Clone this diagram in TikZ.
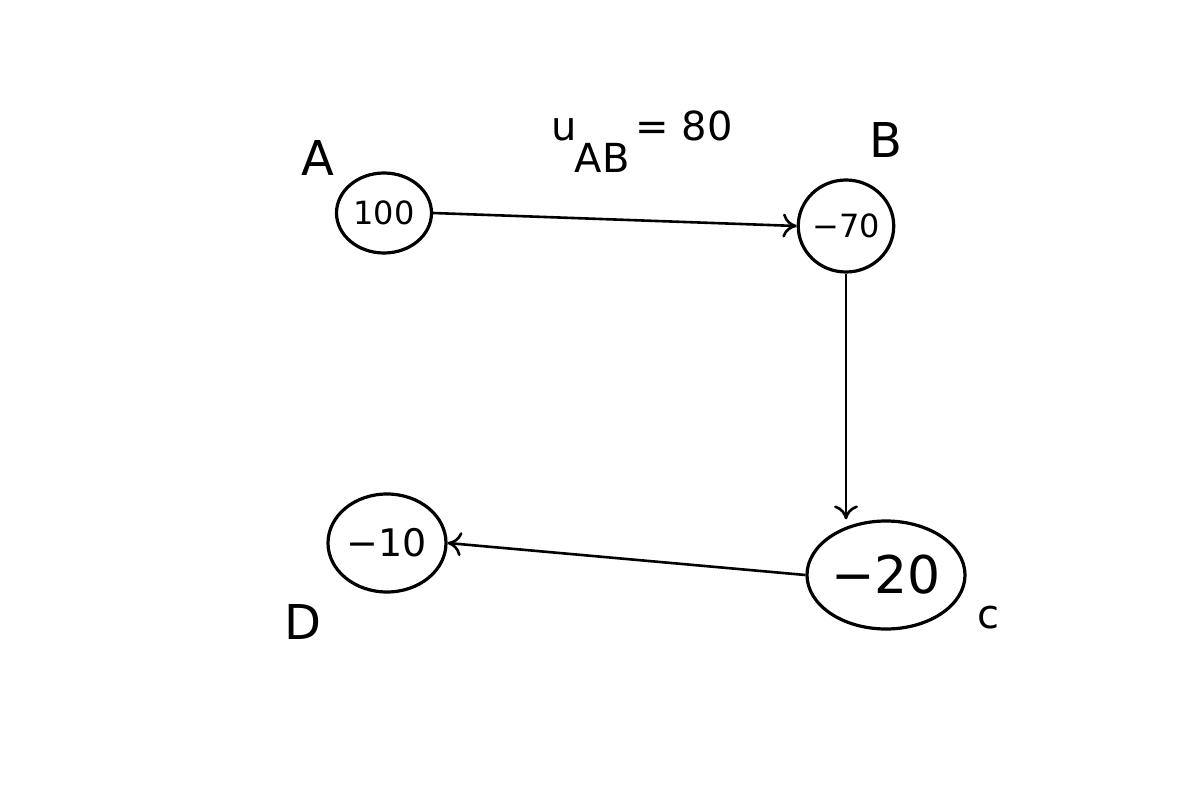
\documentclass[tikz,border=0pt]{standalone}
\usepackage{fontspec}
\setmainfont{DejaVu Sans}
\usetikzlibrary{shapes.geometric,arrows.meta}
\begin{document}
\begin{tikzpicture}[x=1pt,y=-1pt,
  vert/.style={draw,ellipse,line width=3.2pt,inner sep=0pt},
  lbl/.style={font=\fontsize{48}{56}\selectfont},
  conn/.style={line width=2.6pt,-{To[length=14pt,width=24pt,line width=2.6pt]}}]
\useasboundingbox (0,0) rectangle (1200,800);
\node[vert, minimum width=95pt, minimum height=80pt, font=\fontsize{32}{38}\selectfont] (A) at (384,213) {100};
\node[vert, minimum width=94pt, minimum height=92pt, font=\fontsize{32}{38}\selectfont] (B) at (846,226) {−70};
\node[vert, minimum width=158pt, minimum height=108pt, font=\fontsize{52}{60}\selectfont] (C) at (886,575) {−20};
\node[vert, minimum width=118pt, minimum height=98pt, font=\fontsize{38}{46}\selectfont] (D) at (387,543) {−10};
\node[lbl] (la) at (318,158) {A};
\node[lbl] (lb) at (886,140) {B};
\node[lbl,font=\fontsize{40}{48}\selectfont] (lc) at (988,618) {c};
\node[lbl] (ld) at (303,622) {D};
\draw[conn] (A.east) -- (B.west);
\draw[conn] (B.south) -- (B.south |- C.north);
\draw[conn] (C.west) -- (D.east);
\node[font=\fontsize{40}{48}\selectfont, anchor=center] (u) at (642,142) {u\kern-2pt\raisebox{-0.8em}{AB}\kern6pt= 80};
\end{tikzpicture}
\end{document}
